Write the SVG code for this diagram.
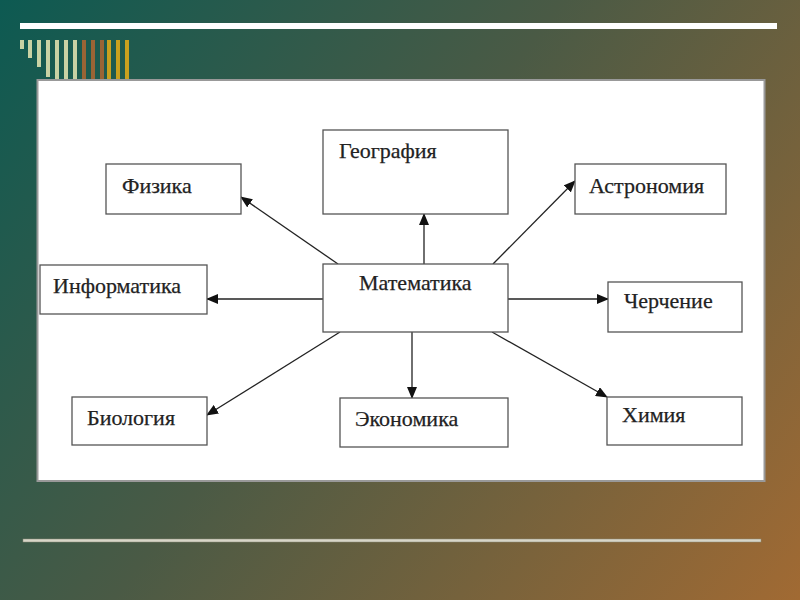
<svg xmlns="http://www.w3.org/2000/svg" width="800" height="600" viewBox="0 0 800 600">
<defs>
<linearGradient id="bg" x1="0" y1="0" x2="800" y2="600" gradientUnits="userSpaceOnUse">
<stop offset="0" stop-color="#0d5a52"/>
<stop offset="0.45" stop-color="#4a5a45"/>
<stop offset="1" stop-color="#a16a33"/>
</linearGradient>
<marker id="ah" markerWidth="12" markerHeight="10" refX="11" refY="5" orient="auto" markerUnits="userSpaceOnUse">
<path d="M0,0 L12,5 L0,10 Z" fill="#111"/>
</marker>
<style>
.box{fill:#fff;stroke:#555;stroke-width:1.3}
.lbl{font-family:"Liberation Serif","Times New Roman",serif;font-size:22px;fill:#222;stroke:#222;stroke-width:0.25}
.con line{stroke:#222;stroke-width:1.3;marker-end:url(#ah)}
.bl{fill:#c9d2a4}.bb{fill:#9a6435}.bg{fill:#c9a01e}
</style>
</defs>
<rect width="800" height="600" fill="url(#bg)"/>
<rect x="20" y="23" width="757" height="6" fill="#fff"/>
<g id="bars">
<rect class="bl" x="20" y="40" width="4" height="9"/>
<rect class="bl" x="28" y="40" width="4" height="18"/>
<rect class="bl" x="37" y="40" width="4" height="27"/>
<rect class="bl" x="46" y="40" width="4" height="37"/>
<rect class="bl" x="55" y="40" width="4" height="40"/>
<rect class="bl" x="64" y="40" width="4" height="40"/>
<rect class="bl" x="73" y="40" width="4" height="40"/>
<rect class="bb" x="82" y="40" width="4" height="40"/>
<rect class="bb" x="91" y="40" width="4" height="40"/>
<rect class="bb" x="100" y="40" width="4" height="40"/>
<rect class="bg" x="107" y="40" width="4" height="40"/>
<rect class="bg" x="116" y="40" width="4" height="40"/>
<rect class="bg" x="125" y="40" width="4" height="40"/>
</g>
<rect x="37.5" y="80" width="727" height="401" fill="#fff" stroke="#999" stroke-width="2"/>
<rect x="23" y="539" width="738" height="3" fill="#d8d6c8" stroke="#8a8a7a" stroke-width="0.5"/>
<g class="con" id="connectors">
<line x1="338" y1="264" x2="241" y2="197"/>
<line x1="424" y1="264" x2="424" y2="214"/>
<line x1="493" y1="264" x2="575" y2="181"/>
<line x1="323" y1="299" x2="207" y2="299"/>
<line x1="508" y1="299" x2="608" y2="299"/>
<line x1="340" y1="332" x2="207" y2="415"/>
<line x1="412" y1="332" x2="412" y2="398"/>
<line x1="492" y1="332" x2="607" y2="397"/>
</g>
<g id="n-fizika"><rect class="box" x="106" y="164" width="135" height="50"/><text class="lbl" x="122" y="193">Физика</text></g>
<g id="n-informatika"><rect class="box" x="40" y="265" width="167" height="49"/><text class="lbl" x="53" y="293">Информатика</text></g>
<g id="n-geografiya"><rect class="box" x="323" y="130" width="185" height="84"/><text class="lbl" x="339" y="158">География</text></g>
<g id="n-matematika"><rect class="box" x="323" y="264" width="185" height="68"/><text class="lbl" x="359" y="290">Математика</text></g>
<g id="n-astronomiya"><rect class="box" x="575" y="164" width="151" height="50"/><text class="lbl" x="589" y="193">Астрономия</text></g>
<g id="n-cherchenie"><rect class="box" x="608" y="282" width="134" height="50"/><text class="lbl" x="624" y="308">Черчение</text></g>
<g id="n-biologiya"><rect class="box" x="72" y="397" width="135" height="48"/><text class="lbl" x="87" y="425">Биология</text></g>
<g id="n-ekonomika"><rect class="box" x="340" y="398" width="168" height="49"/><text class="lbl" x="355" y="426">Экономика</text></g>
<g id="n-khimiya"><rect class="box" x="607" y="397" width="135" height="48"/><text class="lbl" x="622" y="422">Химия</text></g>
</svg>
